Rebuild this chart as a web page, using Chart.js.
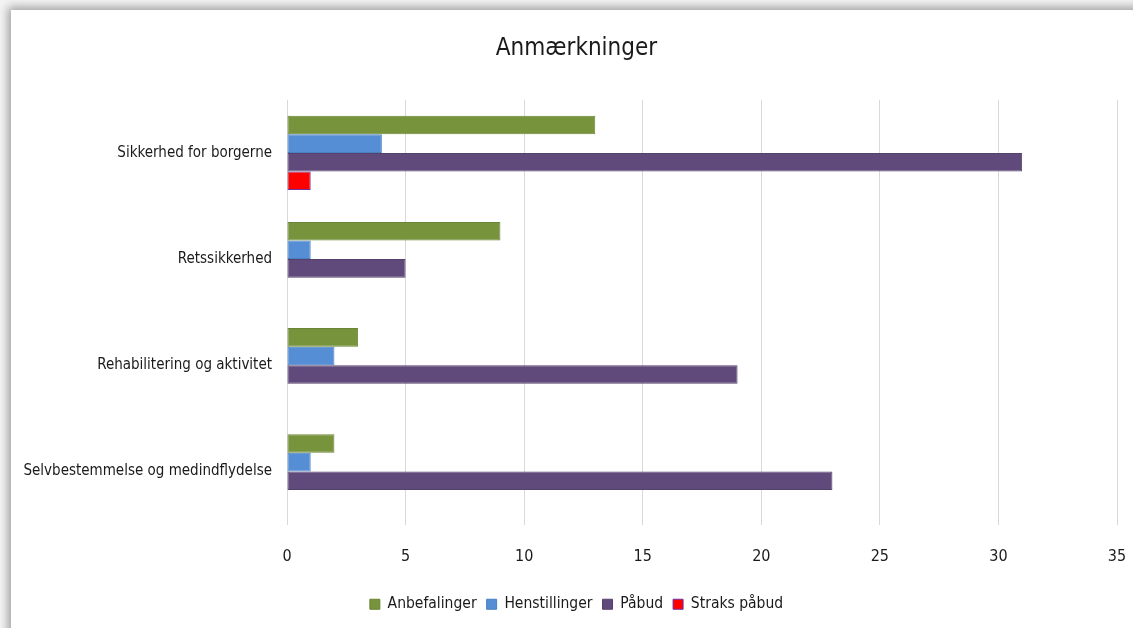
<!DOCTYPE html>
<html lang="da">
<head>
  <meta charset="UTF-8">
  <title>Anmærkninger</title>
  <script src="https://cdn.jsdelivr.net/npm/chart.js@4.4.0/dist/chart.umd.min.js"></script>
  <style>
    html, body { margin: 0; padding: 0; background: #f4f4f4; overflow: hidden; }
    .panel {
      position: absolute; left: 11px; top: 10px; width: 1160px; height: 660px;
      background: #fff; box-shadow: 0 0 9px 3px rgba(0,0,0,0.35);
    }
    .wrap { position: absolute; left: 0; top: 0; width: 1133px; height: 628px; }
  </style>
</head>
<body>
  <div class="panel"></div>
  <div class="wrap"><canvas id="chart" width="1133" height="628"></canvas></div>

  <script>
    // --- Data ---
    const categories = ['Sikkerhed for borgerne', 'Retssikkerhed', 'Rehabilitering og aktivitet', 'Selvbestemmelse og medindflydelse'];
    const anbefalinger = [13, 9, 3, 2];
    const henstillinger = [4, 1, 2, 1];
    const paabud = [31, 5, 19, 23];
    const straksPaabud = [1, 0, 0, 0];
    const xTicks = [0, 5, 10, 15, 20, 25, 30, 35];

    const fontFamily = "'DejaVu Sans Condensed', 'DejaVu Sans', sans-serif";

    function ds(label, data, color, border) {
      return { label: label, data: data, backgroundColor: color, borderColor: border, borderWidth: 1, borderSkipped: false };
    }

    new Chart(document.getElementById('chart'), {
      type: 'bar',
      data: {
        labels: categories,
        datasets: [
          ds('Anbefalinger', anbefalinger, '#77933c', '#6a8535'),
          ds('Henstillinger', henstillinger, '#558ed5', '#4a7fc0'),
          ds('Påbud', paabud, '#604a7b', '#55416d'),
          ds('Straks påbud', straksPaabud, '#ff0000', '#7030a0')
        ]
      },
      options: {
        indexAxis: 'y',
        responsive: false,
        animation: false,
        // venstre padding flytter titel og forklaring lidt mod højre
        layout: { padding: { left: 20, right: 0, top: 0, bottom: 6 } },
        datasets: { bar: { categoryPercentage: 0.7, barPercentage: 1.0 } },
        plugins: {
          title: {
            display: true, text: 'Anmærkninger', color: '#1a1a1a',
            font: { family: fontFamily, size: 24, weight: 'normal' },
            padding: { top: 34, bottom: 37 }
          },
          legend: {
            position: 'bottom',
            labels: {
              color: '#1a1a1a', boxWidth: 10, boxHeight: 10, padding: 10,
              font: { family: fontFamily, size: 15.5 }
            }
          },
          tooltip: { enabled: false }
        },
        scales: {
          x: {
            min: 0, max: 35,
            afterBuildTicks: s => { s.ticks = xTicks.map(v => ({ value: v })); },
            afterFit: s => { s.height = 62; s.paddingRight = 16; },
            grid: { color: '#d9d9d9', drawTicks: false },
            border: { display: false },
            ticks: { color: '#1a1a1a', padding: 23, font: { family: fontFamily, size: 16 } }
          },
          y: {
            afterFit: s => { s.width = 267; },
            grid: { display: false },
            border: { display: false },
            ticks: { color: '#1a1a1a', padding: 7, font: { family: fontFamily, size: 15 } }
          }
        }
      }
    });
  </script>
</body>
</html>
